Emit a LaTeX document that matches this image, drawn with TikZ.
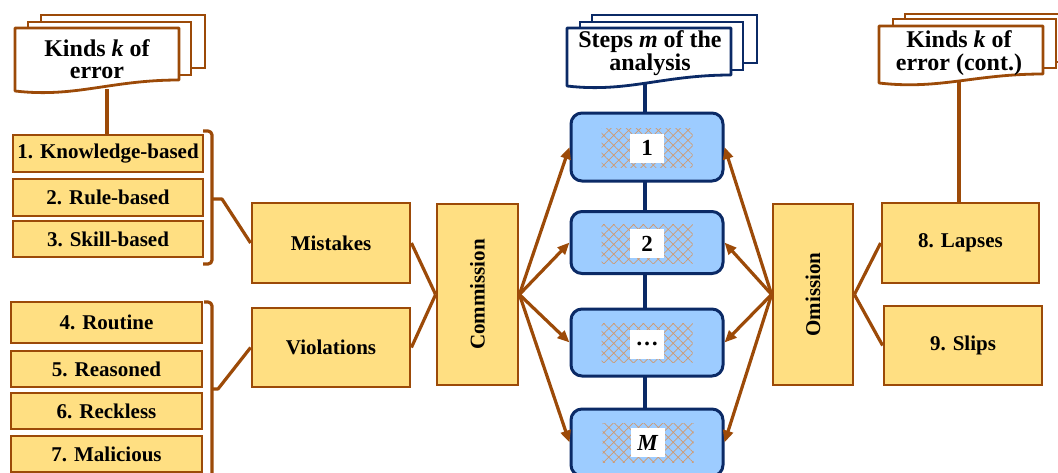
\documentclass[tikz,border=0pt]{standalone}
\usepackage{fontspec}
\setmainfont{Liberation Serif}
\usetikzlibrary{arrows.meta,patterns.meta}
\definecolor{brn}{HTML}{9C4A08}
\definecolor{ylw}{HTML}{FFDF82}
\definecolor{blu}{HTML}{9DCCFF}
\definecolor{nvy}{HTML}{0B2A66}
\definecolor{htc}{HTML}{D09A70}
\newcommand\dfront[6]{\draw[line width=2.8pt, draw=#6, fill=white, line join=round] (#1,#2) -- (#3,#2) -- (#3,#5) .. controls ({#3-0.42*(#3-#1)},{#5}) and ({#1+0.37*(#3-#1)},{#4+7}) .. (#1,#4) -- cycle;}
\newcommand\dback[5]{\draw[line width=2.8pt, draw=#5, fill=white] (#1,#2) rectangle (#3,#4);}
\begin{document}
\begin{tikzpicture}[x=1pt,y=-1pt,
 ybox/.style={draw=brn, fill=ylw, line width=2.8pt, inner sep=0pt, font=\fontsize{21}{24}\selectfont\bfseries, align=center},
 sbox/.style={draw=nvy, fill=blu, line width=3pt, rounded corners=11pt, minimum width=152pt, inner sep=0pt},
 hbox/.style={pattern={Hatch[angle=45,distance=7pt,line width=0.7pt]}, pattern color=htc, minimum width=91pt, minimum height=39pt, inner sep=0pt},
 lbl/.style={fill=white, minimum width=34pt, minimum height=29pt, inner sep=0pt, font=\fontsize{23}{24}\selectfont\bfseries},
 bline/.style={draw=brn, line width=3.2pt, line join=round},
 barrow/.style={bline, -{Triangle[length=12pt,width=10pt]}},
 nline/.style={draw=nvy, line width=3.2pt},
 dtext/.style={font=\fontsize{24}{22.5}\selectfont\bfseries, align=center, inner sep=0pt},
 ]
\useasboundingbox (0,0) rectangle (1058,472);
\fill[white] (0,0) rectangle (1058,472);
% documents
\dback{41}{15}{205}{68}{brn}
\dback{28}{22}{191}{75}{brn}
\dfront{15}{28}{179}{91}{80}{brn}
\node[dtext] (dL) at (97,59) {Kinds \textit{k} of\\error};
\dback{592}{15}{757}{63}{nvy}
\dback{580}{22}{743}{70}{nvy}
\dfront{567}{28}{731}{86}{75}{nvy}
\node[dtext] (dS) at (650,53) {Steps \textit{m} of the\\analysis};
\dback{905}{14}{1070}{62}{brn}
\dback{893}{19}{1056}{68}{brn}
\dfront{879}{26}{1043}{83}{74}{brn}
\node[dtext] (dR) at (959,53) {Kinds \textit{k} of\\error (cont.)};
% left boxes
\node[ybox, minimum width=190pt, minimum height=37pt] (k1) at (108,153.5) {1. Knowledge-based};
\node[ybox, minimum width=190pt, minimum height=37pt] (k2) at (108,197.5) {2. Rule-based};
\node[ybox, minimum width=190pt, minimum height=36pt] (k3) at (108,239) {3. Skill-based};
\node[ybox, minimum width=191pt, minimum height=41pt] (k4) at (106.5,322.5) {4. Routine};
\node[ybox, minimum width=191pt, minimum height=36pt] (k5) at (106.5,369) {5. Reasoned};
\node[ybox, minimum width=191pt, minimum height=36pt] (k6) at (106.5,411) {6. Reckless};
\node[ybox, minimum width=191pt, minimum height=36pt] (k7) at (106.5,454) {7. Malicious};
\node[ybox, minimum width=158pt, minimum height=80pt] (mis) at (331,243) {Mistakes};
\node[ybox, minimum width=158pt, minimum height=79pt] (vio) at (331,347.5) {Violations};
\node[ybox, minimum width=81pt, minimum height=181pt] (com) at (477.5,294.5) {};
\node[rotate=90, font=\fontsize{21}{24}\selectfont\bfseries, inner sep=0pt] (comt) at (com.center) {Commission};
\node[ybox, minimum width=80pt, minimum height=181pt] (omi) at (813,294.5) {};
\node[rotate=90, font=\fontsize{21}{24}\selectfont\bfseries, inner sep=0pt] (omit) at (omi.center) {Omission};
\node[ybox, minimum width=157pt, minimum height=80pt] (lap) at (960.5,243) {8. Lapses};
\node[ybox, minimum width=158pt, minimum height=79pt] (sli) at (963,345.5) {9. Slips};
% steps
\draw[nline] (645,84) coordinate (dSb) -- (dSb |- 0,113);
\draw[nline] (645,181) -- (645,212);
\draw[nline] (645,273) -- (645,309);
\draw[nline] (645,376) -- (645,409);
\node[sbox, minimum height=68pt] (s1) at (647,147) {};
\node[hbox] (h1) at (647,148) {};
\node[lbl] (l1) at (647,148) {1};
\node[sbox, minimum height=62pt] (s2) at (647,242.5) {};
\node[hbox] (h2) at (647,243.5) {};
\node[lbl] (l2) at (647,243.5) {2};
\node[sbox, minimum height=67pt] (s3) at (647,342.5) {};
\node[hbox] (h3) at (647,343) {};
\node[lbl] (l3) at (647,344) {\ldots};
\node[sbox, minimum height=67pt] (sM) at (647,442.5) {};
\node[hbox] (h4) at (648,442.5) {};
\node[lbl] (lM) at (648,442.5) {\textit{M}};
% brackets
\draw[bline, rounded corners=4pt] (203,131) -- (212,131) -- (212,264) -- (203,264);
\draw[bline, rounded corners=4pt] (204,302) -- (212,302) -- (212,480);
\coordinate (bA) at (222,199);
\coordinate (bB) at (218,389);
\draw[bline] (212,199) -- (bA) -- (mis.west);
\draw[bline] (212,389) -- (bB) -- (vio.west);
% connectors
\coordinate (dLb) at (107,89);
\draw[bline] (dLb) -- (dLb |- k1.north);
\coordinate (dRb) at (959,80);
\draw[bline] (dRb) -- (dRb |- lap.north);
\draw[bline] (mis.east) -- (com.west);
\draw[bline] (vio.east) -- (com.west);
\draw[bline] (omi.east) -- (lap.west);
\draw[bline] (omi.east) -- (sli.west);
\foreach \s in {s1,s2,s3,sM}{
  \draw[barrow] (com.east) -- (\s.west);
  \draw[barrow] (omi.west) -- (\s.east);
}
\end{tikzpicture}
\end{document}
